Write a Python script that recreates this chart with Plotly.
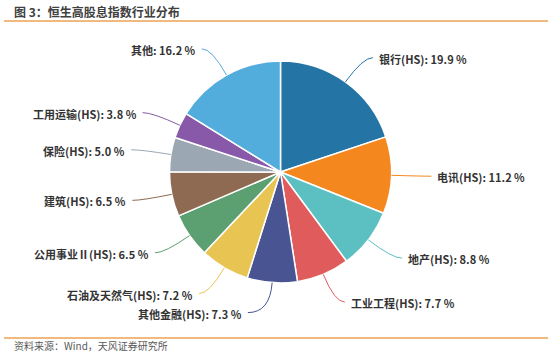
import math
import plotly.graph_objects as go

# ---- data ----
categories = ["银行(HS)", "电讯(HS)", "地产(HS)", "工业工程(HS)", "其他金融(HS)",
              "石油及天然气(HS)", "公用事业Ⅱ(HS)", "建筑(HS)", "保险(HS)",
              "工用运输(HS)", "其他"]
values = [19.9, 11.2, 8.8, 7.7, 7.3, 7.2, 6.5, 6.5, 5.0, 3.8, 16.2]
colors = ["#2474a6", "#f5871f", "#5cbfc1", "#e05b5b", "#485592", "#e8c453",
          "#5c9f70", "#8d6a51", "#9ba8b4", "#8859a8", "#52acdc"]

title_text = "图 3：恒生高股息指数行业分布"
source_text = "资料来源：Wind，天风证券研究所"

# ---- layout geometry (pixels) ----
W, H = 553, 357
CX, CY, R = 280.5, 172.0, 111.0
L1, L2 = 30.0, 10.0
L2_override = {"其他金融(HS)": 22.0}


def px(x):
    return x / W


def py(y):
    return 1 - y / H


fig = go.Figure()
fig.add_trace(go.Pie(
    labels=categories, values=values, sort=False, direction="clockwise",
    rotation=0, marker=dict(colors=colors, line=dict(color="white", width=1.5)),
    textinfo="none", hoverinfo="label+percent", showlegend=False,
    domain=dict(x=[px(CX - R), px(CX + R)], y=[py(CY + R), py(CY - R)]),
))

total = sum(values)
shapes = []
annotations = []
cum = 0.0
for lab, v, c in zip(categories, values, colors):
    mid = (cum + v / 2) / total * 2 * math.pi
    cum += v
    sx, sy = math.sin(mid), -math.cos(mid)
    x0, y0 = CX + R * sx, CY + R * sy
    x1, y1 = CX + (R + L1) * sx, CY + (R + L1) * sy
    right = sx >= 0
    l2 = L2_override.get(lab, L2)
    x2 = x1 + (l2 if right else -l2)
    y2 = y1
    path = f"M {px(x0)},{py(y0)} Q {px(x1)},{py(y1)} {px(x2)},{py(y2)}"
    shapes.append(dict(type="path", xref="paper", yref="paper", path=path,
                       line=dict(color=c, width=1)))
    annotations.append(dict(
        x=px(x2 + (4 if right else -4)), y=py(y2 + 1), xref="paper", yref="paper",
        text=f"<b>{lab}: {v:.1f} %</b>", showarrow=False,
        xanchor="left" if right else "right", yanchor="middle",
        font=dict(size=11, color="#333333", family="Noto Sans CJK SC")))

# title and source
annotations.append(dict(x=px(12), y=py(12), xref="paper", yref="paper",
                        text=f"<b>{title_text}</b>", showarrow=False,
                        xanchor="left", yanchor="middle",
                        font=dict(size=12, color="#404040", family="Noto Sans CJK SC")))
annotations.append(dict(x=px(12), y=py(345), xref="paper", yref="paper",
                        text=source_text, showarrow=False,
                        xanchor="left", yanchor="middle",
                        font=dict(size=10, color="#595959", family="Noto Sans CJK SC")))

for yy in (21, 338):
    shapes.append(dict(type="line", xref="paper", yref="paper",
                       x0=px(4), x1=px(548), y0=py(yy), y1=py(yy),
                       line=dict(color="#eba352", width=1.5)))

fig.update_layout(
    width=W, height=H, margin=dict(l=0, r=0, t=0, b=0),
    paper_bgcolor="white", plot_bgcolor="white",
    shapes=shapes, annotations=annotations, showlegend=False,
    font=dict(family="Noto Sans CJK SC"),
)

fig.write_html("out.html", config={"displayModeBar": False},
               post_script="document.body.style.margin='0';document.body.style.overflow='hidden';")
